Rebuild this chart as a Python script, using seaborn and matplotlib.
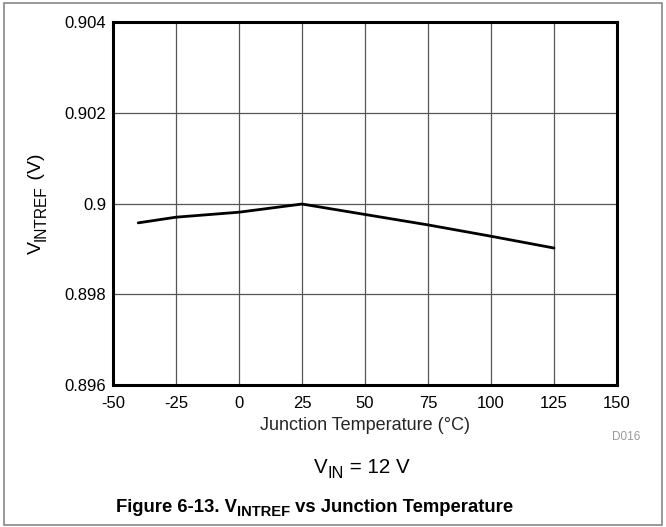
import matplotlib
matplotlib.use("Agg")
import matplotlib.pyplot as plt
import seaborn as sns
import pandas as pd
from matplotlib.patches import Rectangle

temperature = [-40, -25, 0, 25, 50, 75, 100, 125]
vintref = [0.899575, 0.89970, 0.89981, 0.89999, 0.89976, 0.89953, 0.89928, 0.89902]
x_ticks = [-50, -25, 0, 25, 50, 75, 100, 125, 150]
y_ticks = [0.896, 0.898, 0.9, 0.902, 0.904]
y_tick_labels = ["0.896", "0.898", "0.9", "0.902", "0.904"]

df = pd.DataFrame({"temp": temperature, "v": vintref})

sns.set_theme(style="white")
plt.rcParams['font.family'] = ['Liberation Sans', 'DejaVu Sans']

W, H, DPI = 6.66, 5.27, 100
fig = plt.figure(figsize=(W, H), dpi=DPI)
ax = fig.add_axes([0.1697, 0.2694, 0.9264 - 0.1697, 0.958 - 0.2694])

sns.lineplot(data=df, x="temp", y="v", ax=ax, color="black", linewidth=2.0)

ax.set_xlim(-50, 150)
ax.set_ylim(0.896, 0.904)
ax.set_xticks(x_ticks)
ax.set_xticklabels([str(t) for t in x_ticks])
ax.set_yticks(y_ticks)
ax.set_yticklabels(y_tick_labels)
ax.grid(True, color="#555555", linewidth=0.9)
ax.set_axisbelow(True)
for s in ax.spines.values():
    s.set_linewidth(2.2)
    s.set_color("black")
ax.tick_params(axis="x", length=0, labelsize=12, colors="black", pad=8)
ax.tick_params(axis="y", length=0, labelsize=12, colors="black", pad=5)
ax.set_xlabel("Junction Temperature (°C)", fontsize=13, labelpad=4)
ax.set_ylabel("")

renderer = fig.canvas.get_renderer()
WPX, HPX = W * DPI, H * DPI


def rich(x_px, y_px, pieces, fontsize, weight="normal", sub_scale=0.8,
         sub_drop=0.22, ha="center", vertical=False, color="black"):
    """pieces: list of (string, is_sub). y_px measured from top, baseline."""
    items = []
    total = 0.0
    for s, is_sub in pieces:
        fs = fontsize * sub_scale if is_sub else fontsize
        t = fig.text(0, 0, s, fontsize=fs, fontweight=weight, color=color,
                     ha="left", va="baseline", rotation_mode="anchor")
        w = t.get_window_extent(renderer=renderer).width
        items.append((t, is_sub, w))
        total += w
    drop = sub_drop * fontsize * DPI / 72.0
    start = -total / 2 if ha == "center" else 0.0
    pos = start
    for t, is_sub, w in items:
        d = drop if is_sub else 0.0
        if not vertical:
            px, py = x_px + pos, y_px + d
        else:
            t.set_rotation(90)
            px, py = x_px + d, y_px - pos
        t.set_position((px / WPX, 1 - py / HPX))
        pos += w


rich(41, 204, [("V", False), ("INTREF", True), (" (V)", False)], 14, vertical=True)
rich(362, 473, [("V", False), ("IN", True), (" = 12 V", False)], 14.8)
rich(315, 512, [("Figure 6-13. V", False), ("INTREF", True),
                (" vs Junction Temperature", False)], 13.3, weight="bold")

fig.text(0.962, 0.170, "D016", fontsize=8.5, color="#999999", ha="right", va="center")

fig.patches.append(Rectangle((0.006, 0.004), 0.988, 0.990, transform=fig.transFigure,
                             fill=False, edgecolor="#888888", linewidth=1.2))

fig.savefig("out.png", dpi=DPI)
